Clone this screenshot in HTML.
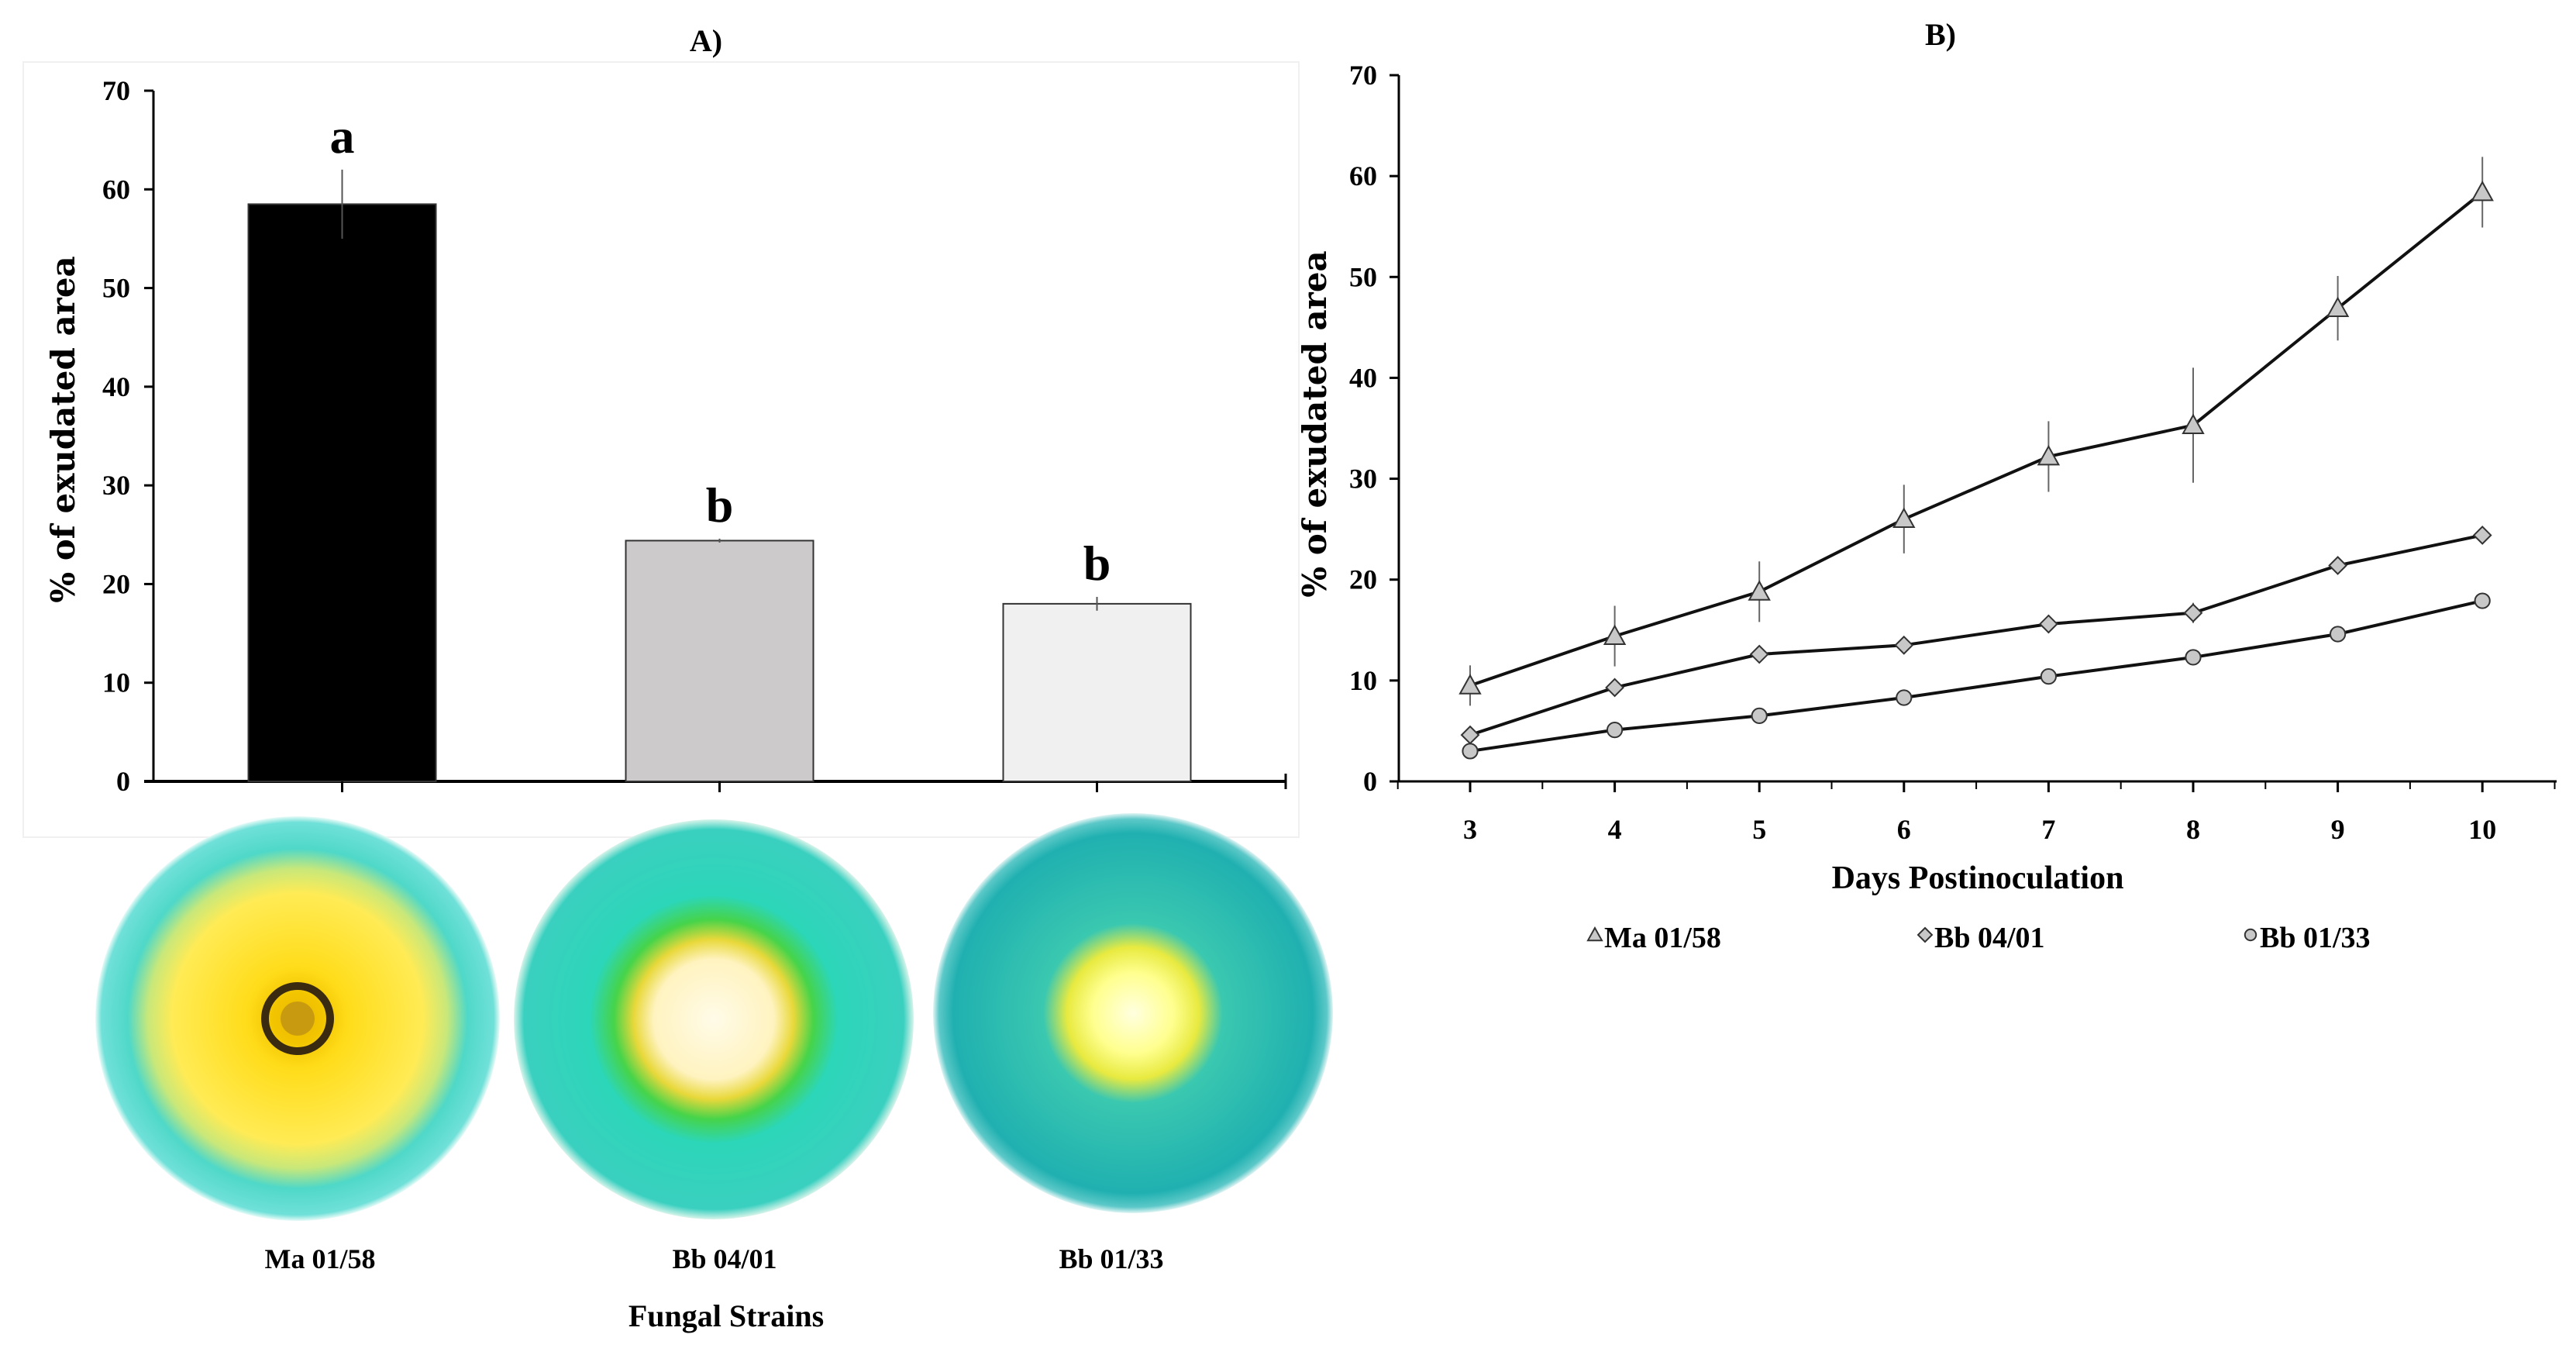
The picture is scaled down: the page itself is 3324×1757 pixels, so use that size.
<!DOCTYPE html>
<html><head><meta charset="utf-8"><style>
html,body{margin:0;padding:0;background:#fff;}
svg{display:block;font-family:"Liberation Serif",serif;font-weight:bold;}
</style></head><body>
<svg id="fig" width="3324" height="1757" viewBox="0 0 3324 1757">
<defs>
<radialGradient id="d1" cx="0.5" cy="0.5" r="0.5">
<stop offset="0" stop-color="#e6b800"/><stop offset="0.12" stop-color="#f2c400"/><stop offset="0.25" stop-color="#ffdc1a"/><stop offset="0.62" stop-color="#ffeb55"/><stop offset="0.74" stop-color="#c8e87a"/><stop offset="0.84" stop-color="#4fd8c8"/><stop offset="0.97" stop-color="#6fe0d8"/><stop offset="1" stop-color="#e8fbf8"/>
</radialGradient>
<radialGradient id="d2" cx="0.5" cy="0.5" r="0.5">
<stop offset="0" stop-color="#fffbe8"/><stop offset="0.3" stop-color="#fff3c0"/><stop offset="0.4" stop-color="#e8d83a"/><stop offset="0.5" stop-color="#46d44a"/><stop offset="0.62" stop-color="#2cd6b8"/><stop offset="0.95" stop-color="#3ad0c0"/><stop offset="1" stop-color="#d8f4ea"/>
</radialGradient>
<radialGradient id="d3" cx="0.5" cy="0.5" r="0.5">
<stop offset="0" stop-color="#ffffe0"/><stop offset="0.2" stop-color="#ffff90"/><stop offset="0.33" stop-color="#e8ea40"/><stop offset="0.45" stop-color="#3ac8b0"/><stop offset="0.9" stop-color="#20b0b0"/><stop offset="0.97" stop-color="#5cc8c8"/><stop offset="1" stop-color="#e0f4f4"/>
</radialGradient>
</defs>
<g id="panelA">
<rect x="30" y="80" width="1646" height="1000" fill="none" stroke="#f0f0f0" stroke-width="2"/>
<text x="911" y="66" font-size="40" text-anchor="middle">A)</text>
<g id="barsG"></g>
<text transform="translate(96,554) rotate(-90)" font-size="42" text-anchor="middle" font-family="'DejaVu Serif',serif">% of exudated area</text>
</g>
<g>
<circle cx="384" cy="1314" r="261" fill="url(#d1)"/>
<circle cx="384" cy="1314" r="42" fill="none" stroke="#3a2a10" stroke-width="10"/>
<circle cx="384" cy="1314" r="22" fill="#c89a10"/>
<circle cx="921" cy="1315" r="258" fill="url(#d2)"/>
<circle cx="1462" cy="1307" r="258" fill="url(#d3)"/>
<text x="413" y="1636" font-size="36" text-anchor="middle">Ma 01/58</text>
<text x="935" y="1636" font-size="36" text-anchor="middle">Bb 04/01</text>
<text x="1434" y="1636" font-size="36" text-anchor="middle">Bb 01/33</text>
<text x="937" y="1711" font-size="40" text-anchor="middle">Fungal Strains</text>
</g>
<g id="panelB">
<text x="2504" y="58" font-size="40" text-anchor="middle">B)</text>
<g id="linesG"></g>
<text transform="translate(1711,547) rotate(-90)" font-size="42" text-anchor="middle" font-family="'DejaVu Serif',serif">% of exudated area</text>
<text x="2552" y="1146" font-size="42" text-anchor="middle">Days Postinoculation</text>
</g>
</svg>
<script>
const barCategories = ["Ma 01/58","Bb 04/01","Bb 01/33"];
const barValues = [58.5, 24.4, 18.0];
const barErrors = [3.5, 0.2, 0.7];
const barLetters = ["a","b","b"];
const barColors = ["#000000","#cccacb","#f0f0f0"];
const yTicks = [0,10,20,30,40,50,60,70];
const days = [3,4,5,6,7,8,9,10];
const maValues = [9.5,14.4,18.8,26.0,32.2,35.3,46.9,58.4];
const maErrors = [2.0,3.0,3.0,3.4,3.5,5.7,3.2,3.5];
const bb0401Values = [4.6,9.3,12.6,13.5,15.6,16.7,21.4,24.4];
const bb0401Errors = [0.5,0.6,0.6,0.5,0.9,1.0,0.8,0.4];
const bb0133Values = [3.0,5.1,6.5,8.3,10.4,12.3,14.6,17.9];
const bb0133Errors = [0.3,0.3,0.3,0.3,0.3,0.4,0.4,0.4];

const NS="http://www.w3.org/2000/svg";
function mk(tag,attrs,parent){const e=document.createElementNS(NS,tag);for(const k in attrs)e.setAttribute(k,attrs[k]);parent.appendChild(e);return e;}

// Panel A
const gA=document.getElementById('barsG');
const yA=v=>1008-(v/70)*(1008-117);
const ax0=198, ax1=1659;
const bandW=(ax1-ax0)/barCategories.length;
const xA=i=>ax0+bandW*(i+0.5);
let e;
e=mk('line',{x1:ax0,y1:yA(0),x2:ax0,y2:yA(70),stroke:'#000','stroke-width':3},gA);


e=mk('line',{x1:ax0-12,y1:yA(0),x2:ax1,y2:yA(0),stroke:'#000','stroke-width':4},gA);


yTicks.forEach(t=>{
 e=mk('line',{x1:ax0-12,y1:yA(t),x2:ax0,y2:yA(t),stroke:'#000','stroke-width':3},gA);
 
 
 e=mk('text',{x:ax0-30,y:yA(t)+12,'font-size':36,'text-anchor':'end'},gA);e.textContent=t;
 
 
});
mk('line',{x1:ax1,y1:yA(0)-10,x2:ax1,y2:yA(0)+10,stroke:'#000','stroke-width':3},gA);
barCategories.forEach((c,i)=>{
 const w=242,x=xA(i)-w/2;
 e=mk('rect',{x:x,y:yA(barValues[i]),width:w,height:yA(0)-yA(barValues[i]),fill:barColors[i],stroke:'#333','stroke-width':2},gA);
 
 
 e=mk('line',{x1:xA(i),y1:yA(barValues[i]+barErrors[i]),x2:xA(i),y2:yA(barValues[i]-barErrors[i]),stroke:'#555','stroke-width':2},gA);
 
 
 e=mk('line',{x1:xA(i),y1:yA(0),x2:xA(i),y2:yA(0)+14,stroke:'#000','stroke-width':3},gA);
 
 
 e=mk('text',{x:xA(i),y:yA(barValues[i]+barErrors[i])-22,'font-size':64,'text-anchor':'middle'},gA);e.textContent=barLetters[i];
 
 
});

// Panel B
const gB=document.getElementById('linesG');
const yB=v=>1008-(v/70)*(1008-97);
const xB=d=>1897+(d-3)*186.6;
const bx0=1805,bx1=3299;
e=mk('line',{x1:bx0,y1:yB(0),x2:bx0,y2:yB(70),stroke:'#000','stroke-width':3},gB);


e=mk('line',{x1:bx0-12,y1:yB(0),x2:bx1,y2:yB(0),stroke:'#000','stroke-width':3},gB);


yTicks.forEach(t=>{
 e=mk('line',{x1:bx0-12,y1:yB(t),x2:bx0,y2:yB(t),stroke:'#000','stroke-width':3},gB);
 
 
 e=mk('text',{x:bx0-28,y:yB(t)+12,'font-size':36,'text-anchor':'end'},gB);e.textContent=t;
 
 
});
for(let k=2.5;k<=10.5;k+=1){mk('line',{x1:xB(k),y1:yB(0),x2:xB(k),y2:yB(0)+10,stroke:'#000','stroke-width':2},gB);}
days.forEach(d=>{
 e=mk('line',{x1:xB(d),y1:yB(0),x2:xB(d),y2:yB(0)+14,stroke:'#000','stroke-width':3},gB);
 
 
 e=mk('text',{x:xB(d),y:1082,'font-size':36,'text-anchor':'middle'},gB);e.textContent=d;
 
 
});
function marker(shape,x,y,s,g){
 if(shape==='tri') return mk('polygon',{points:`${x},${y-s} ${x-s},${y+s*0.8} ${x+s},${y+s*0.8}`,fill:'#c8c8c8',stroke:'#333','stroke-width':2},g);
 if(shape==='dia') return mk('polygon',{points:`${x},${y-s} ${x+s},${y} ${x},${y+s} ${x-s},${y}`,fill:'#c8c8c8',stroke:'#333','stroke-width':2},g);
 return mk('circle',{cx:x,cy:y,r:s*0.8,fill:'#c8c8c8',stroke:'#333','stroke-width':2},g);
}
const series=[["ma-01-58",maValues,maErrors,'tri',13],["bb-04-01",bb0401Values,bb0401Errors,'dia',11],["bb-01-33",bb0133Values,bb0133Errors,'circ',12]];
series.forEach(([nm,vals,errs,shape,sz])=>{
 const sg=mk('g',{},gB);
 
 
 vals.forEach((v,i)=>{
  e=mk('line',{x1:xB(days[i]),y1:yB(v+errs[i]),x2:xB(days[i]),y2:yB(v-errs[i]),stroke:'#666','stroke-width':2},sg);
  
  
 });
 e=mk('polyline',{points:vals.map((v,i)=>xB(days[i])+','+yB(v)).join(' '),fill:'none',stroke:'#111','stroke-width':4},sg);
 
 
 vals.forEach((v,i)=>{
  e=marker(shape,xB(days[i]),yB(v),sz,sg);
  
  
 });
});
const legendNames=["Ma 01/58","Bb 04/01","Bb 01/33"];
const legendX=[2058,2484,2904];
const legendShapes=['tri','dia','circ'];
legendNames.forEach((n,i)=>{
 const lg=mk('g',{},gB);
 
 
 marker(legendShapes[i],legendX[i],1206,9,lg);
 const t=mk('text',{x:legendX[i]+12,y:1222,'font-size':38},lg);t.textContent=n;
});
</script>
</body></html>
